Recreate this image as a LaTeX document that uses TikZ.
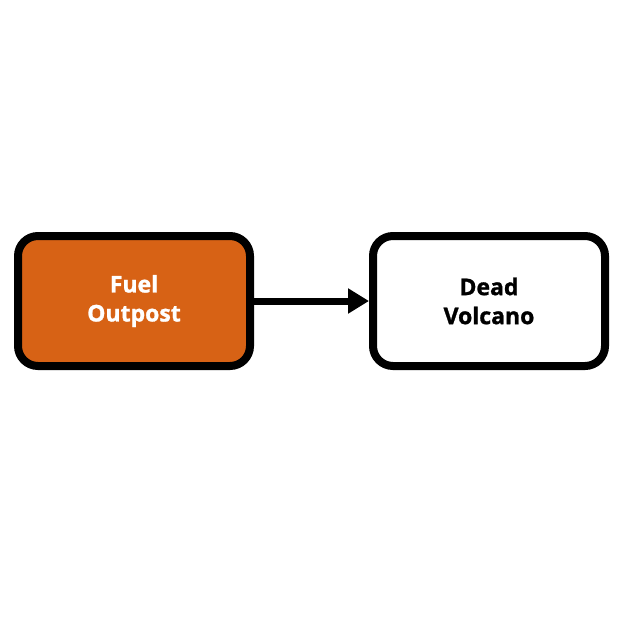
\documentclass[tikz,border=0pt]{standalone}
\usepackage{fontspec}
\setmainfont{Open Sans}[BoldFeatures={FakeBold=1.2}]
\usetikzlibrary{arrows.meta}
\definecolor{fuelorange}{HTML}{D76215}
\begin{document}
\begin{tikzpicture}[x=1pt, y=-1pt, text centered]
    \tikzset{%
      place/.style={draw=black, line width=8pt, rounded corners=20pt, fill=white,
        minimum width=232pt, minimum height=130pt, align=center,
        font=\fontsize{23pt}{29pt}\selectfont\bfseries},
      start/.style={place, fill=fuelorange, text=white}
      }
    \useasboundingbox (0,0) rectangle (628,626);

    \node [start] (Fuel) at (134, 301) {Fuel\\Outpost};
    \node [place] (Volcano) at (489, 301) {Dead\\Volcano};
    \draw [line width=7pt, -{Triangle[length=21pt, width=24pt]}] (Fuel.east) -- (Volcano.west);

  \end{tikzpicture}
\end{document}
